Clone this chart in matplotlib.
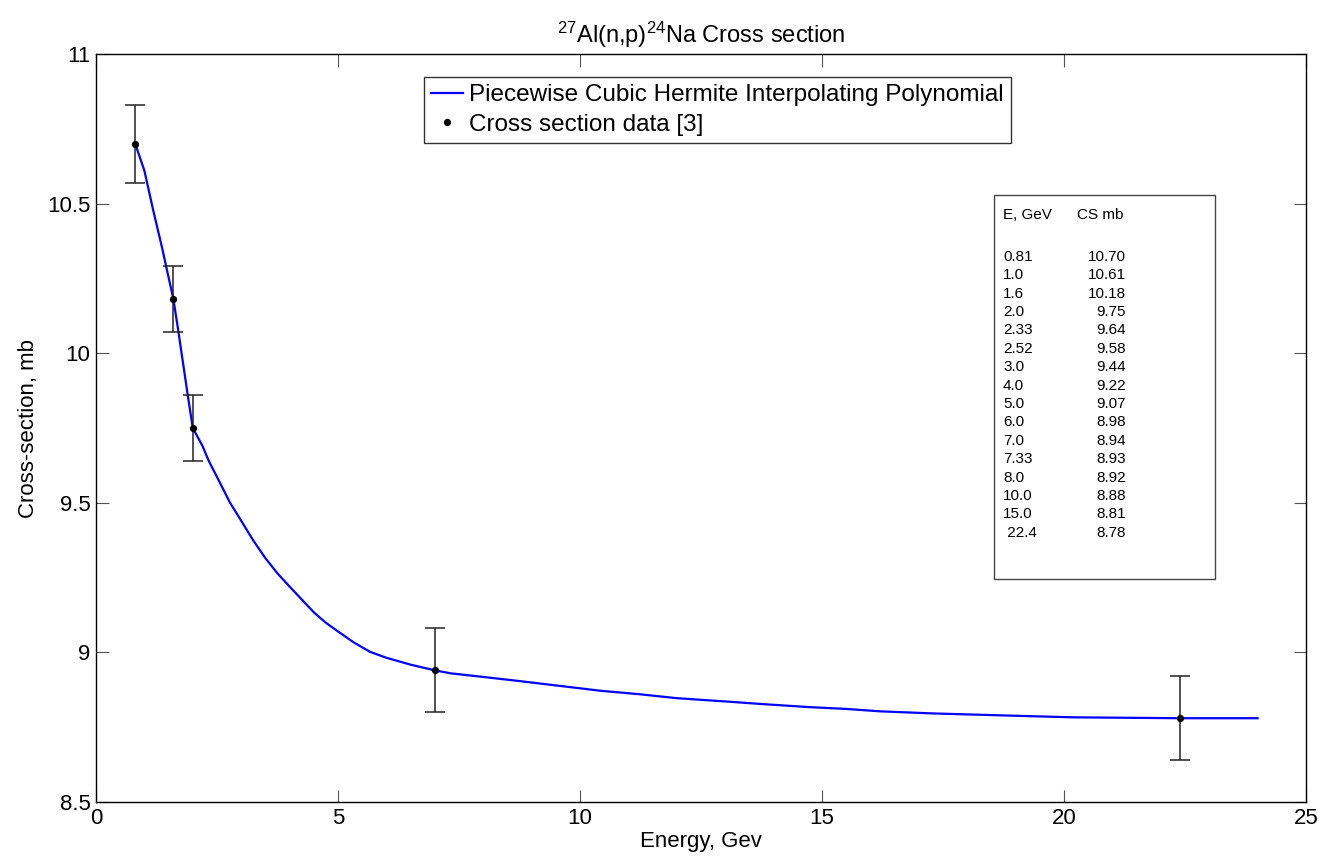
import matplotlib
matplotlib.use('Agg')
import matplotlib.pyplot as plt
from matplotlib.patches import Rectangle

plt.rcParams['font.family'] = ['Liberation Sans', 'DejaVu Sans']
plt.rcParams['mathtext.default'] = 'regular'

# кривая PCHIP
curve_x = [0.81, 1.0, 1.18, 1.36, 1.6, 1.7, 1.8, 1.9, 2.0, 2.2, 2.33, 2.52, 2.77, 3.0,
           3.25, 3.5, 3.75, 4.0, 4.25, 4.5, 4.75, 5.0, 5.33, 5.66, 6.0, 6.5, 7.0, 7.33,
           8.0, 8.76, 10.0, 10.41, 11.24, 12.0, 13.1, 13.79, 14.75, 15.51, 16.2, 17.3,
           18.82, 20.19, 22.4, 24.0]
curve_y = [10.70, 10.61, 10.479, 10.356, 10.18, 10.075, 9.965, 9.855, 9.75, 9.69, 9.64,
           9.58, 9.50, 9.44, 9.374, 9.315, 9.264, 9.22, 9.177, 9.134, 9.099, 9.07, 9.033,
           9.002, 8.982, 8.959, 8.94, 8.93, 8.918, 8.904, 8.88, 8.872, 8.86, 8.847, 8.835,
           8.827, 8.817, 8.811, 8.803, 8.796, 8.789, 8.783, 8.78, 8.78]

# точки с погрешностями
data_x = [0.81, 1.6, 2.0, 7.0, 22.4]
data_y = [10.70, 10.18, 9.75, 8.94, 8.78]
data_err = [0.13, 0.11, 0.11, 0.14, 0.14]

# таблица справа
table_e = ['0.81', '1.0', '1.6', '2.0', '2.33', '2.52', '3.0', '4.0', '5.0', '6.0', '7.0',
           '7.33', '8.0', '10.0', '15.0', ' 22.4']
table_cs = ['10.70', '10.61', '10.18', '9.75', '9.64', '9.58', '9.44', '9.22', '9.07', '8.98',
            '8.94', '8.93', '8.92', '8.88', '8.81', '8.78']

fig = plt.figure(figsize=(13.2, 8.59), dpi=100)
ax = fig.add_axes([96 / 1320, 57 / 859, 1210 / 1320, 748 / 859])

ax.plot(curve_x, curve_y, color='#0000ff', lw=1.6,
        label='Piecewise Cubic Hermite Interpolating Polynomial')
ax.errorbar(data_x, data_y, yerr=data_err, fmt='none', ecolor='#222222',
            elinewidth=1.1, capsize=7.5, capthick=1.1, zorder=3)
ax.plot(data_x, data_y, 'o', color='black', ms=4.2, ls='none', zorder=4,
        label='Cross section data [3]')

ax.set_xlim(0, 25)
ax.set_ylim(8.5, 11)
ax.set_xticks([0, 5, 10, 15, 20, 25])
ax.set_yticks([8.5, 9, 9.5, 10, 10.5, 11])
ax.set_yticklabels(['8.5', '9', '9.5', '10', '10.5', '11'])
ax.tick_params(direction='in', length=9, width=0.8, color='#555555', labelsize=16,
               top=True, right=True, pad=4)
for s in ax.spines.values():
    s.set_linewidth(1.0)

ax.set_xlabel('Energy, Gev', fontsize=16, labelpad=2)
ax.set_ylabel('Cross-section, mb', fontsize=16, labelpad=6)
ax.set_title(r'$^{27}$Al(n,p)$^{24}$Na Cross section', fontsize=17, pad=8)

leg = ax.legend(loc='upper left', bbox_to_anchor=(0.2711, 0.9693), fontsize=17.5,
                frameon=True, fancybox=False, borderaxespad=0, handlelength=1.3,
                handletextpad=0.25, labelspacing=0.3, borderpad=0.3)
leg.get_frame().set_edgecolor('black')
leg.get_frame().set_linewidth(1.0)

# рамка и текст таблицы
ax.add_patch(Rectangle((0.742, 0.298), 0.183, 0.5135, transform=ax.transAxes,
                       fill=False, edgecolor='#444444', lw=1.0))
ax.text(0.7496, 0.7848, 'E, GeV', transform=ax.transAxes, fontsize=11, va='center')
ax.text(0.8107, 0.7848, 'CS mb', transform=ax.transAxes, fontsize=11, va='center')
for i, (e, cs) in enumerate(zip(table_e, table_cs)):
    yy = 0.729 - i * 18.4 / 748
    ax.text(0.7496, yy, e, transform=ax.transAxes, fontsize=11, va='center')
    ax.text(0.8512, yy, cs, transform=ax.transAxes, fontsize=11, va='center', ha='right')

fig.savefig('out.png', dpi=100)
